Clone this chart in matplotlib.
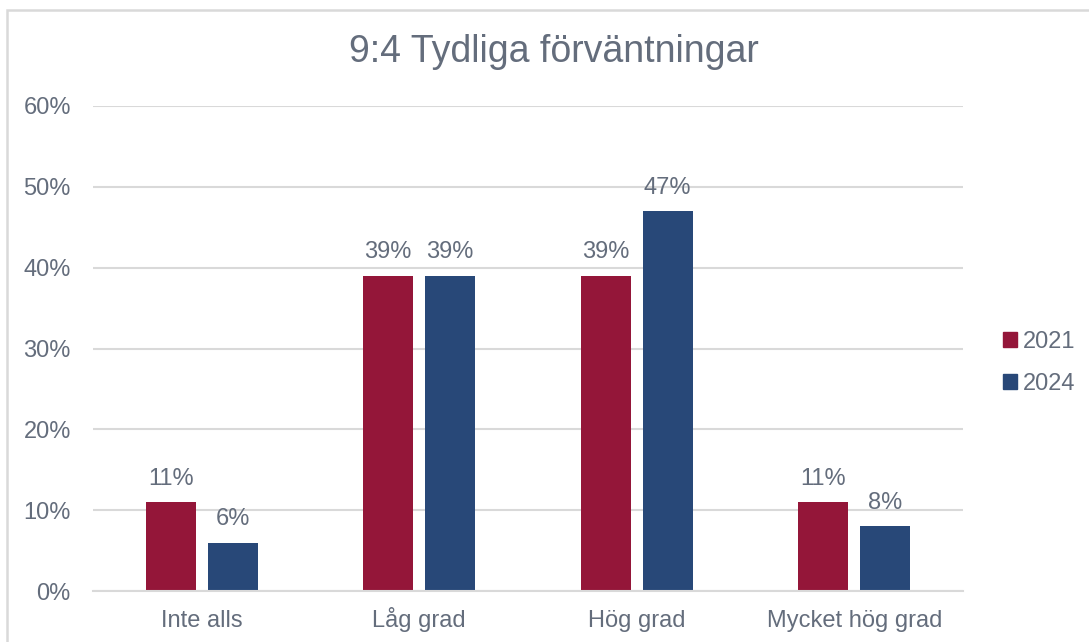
import matplotlib
matplotlib.use("Agg")
import matplotlib.pyplot as plt
import numpy as np
from matplotlib.patches import Rectangle, Patch

categories = ["Inte alls", "Låg grad", "Hög grad", "Mycket hög grad"]
series_names = ["2021", "2024"]
values_2021 = [0.11, 0.39, 0.39, 0.11]
values_2024 = [0.06, 0.39, 0.47, 0.08]
labels_2021 = ["11%", "39%", "39%", "11%"]
labels_2024 = ["6%", "39%", "47%", "8%"]
yticks = [0, 0.1, 0.2, 0.3, 0.4, 0.5, 0.6]
ytick_labels = ["0%", "10%", "20%", "30%", "40%", "50%", "60%"]
title = "9:4 Tydliga förväntningar"

plt.rcParams['font.family'] = ['Liberation Sans', 'DejaVu Sans']
TXT = "#646d7c"
GRID = "#d9d9d9"
RED = "#941639"
BLUE = "#284878"

fig = plt.figure(figsize=(10.89, 6.42), dpi=100)
ax = fig.add_axes([93/1089, 1-591/642, (963-93)/1089, (591-106)/642])

x = np.arange(len(categories))
w = 0.23
gap = 0.055
b1 = ax.bar(x - (w+gap)/2, values_2021, w, color=RED, zorder=3)
b2 = ax.bar(x + (w+gap)/2, values_2024, w, color=BLUE, zorder=3)

for bars, labs in ((b1, labels_2021), (b2, labels_2024)):
    for r, lab in zip(bars, labs):
        ax.annotate(lab, (r.get_x() + r.get_width()/2, r.get_height()),
                    xytext=(0, 9), textcoords="offset points",
                    ha="center", va="bottom", fontsize=17, color=TXT)

ax.set_xlim(-0.5, len(categories) - 0.5)
ax.set_ylim(0, 0.6)
ax.set_yticks(yticks)
ax.set_yticklabels(ytick_labels)
ax.set_xticks(x)
ax.set_xticklabels(categories)
ax.tick_params(axis="both", length=0, labelsize=17, colors=TXT)
ax.tick_params(axis="y", pad=16)
ax.tick_params(axis="x", pad=26)
for lab in ax.get_xticklabels():
    lab.set_va("baseline")
ax.grid(axis="y", color=GRID, linewidth=1.5, zorder=0)
for s in ["top", "right", "left"]:
    ax.spines[s].set_visible(False)
ax.spines["bottom"].set_color(GRID)
ax.spines["bottom"].set_linewidth(1.5)
ax.spines["bottom"].set_zorder(4)

fig.text(554/1089, 1-52/642, title, ha="center", va="center", fontsize=27, color=TXT)

handles = [Patch(color=RED), Patch(color=BLUE)]
leg = fig.legend(handles, series_names, loc="center left",
                 bbox_to_anchor=(991/1089, 1-363/642), frameon=False,
                 fontsize=17, handlelength=0.6, handleheight=0.6,
                 handletextpad=0.25, labelspacing=0.85, borderpad=0)
for t in leg.get_texts():
    t.set_color(TXT)

fig.patches.append(Rectangle((7/1089, -0.1), 1.2, 1-10/642 + 0.1,
                             transform=fig.transFigure, fill=False,
                             edgecolor=GRID, linewidth=1.8))

fig.savefig("out.png", dpi=100)
